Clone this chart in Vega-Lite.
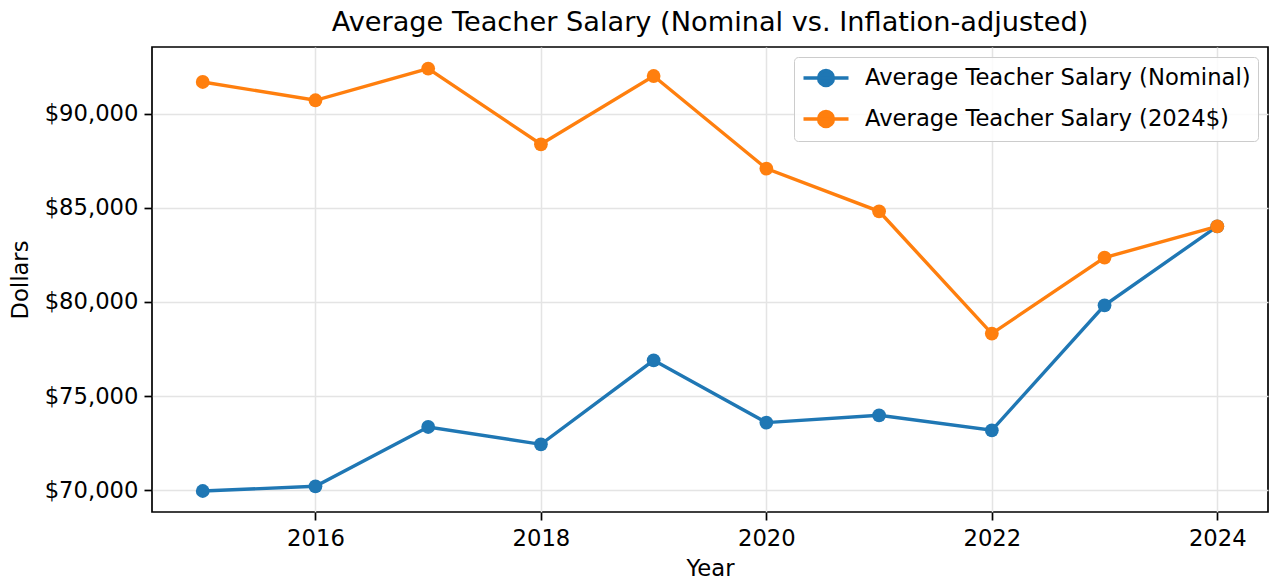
{
  "$schema": "https://vega.github.io/schema/vega-lite/v6.json",
  "autosize": "none",
  "width": 1116,
  "height": 465,
  "padding": {"left": 152, "top": 47, "right": 4, "bottom": 71},
  "background": "white",
  "title": {"text": "Average Teacher Salary (Nominal vs. Inflation-adjusted)", "fontSize": 27.2, "fontWeight": "normal", "font": "DejaVu Sans", "color": "black", "offset": 10, "anchor": "middle"},
  "config": {
    "font": "DejaVu Sans",
    "view": {"stroke": "black", "strokeWidth": 1.7},
    "axis": {"labelFontSize": 22.7, "titleFontSize": 22.7, "titleFontWeight": "normal", "labelColor": "black", "titleColor": "black", "tickColor": "black", "tickWidth": 1.7, "domain": false, "gridColor": "#e4e4e4", "gridWidth": 1.5, "tickSize": 8, "labelPadding": 6, "labelFont": "DejaVu Sans", "titleFont": "DejaVu Sans"}
  },
  "data": {"values": [
    {"year": 2015, "series": "Average Teacher Salary (Nominal)", "value": 69963},
    {"year": 2016, "series": "Average Teacher Salary (Nominal)", "value": 70212},
    {"year": 2017, "series": "Average Teacher Salary (Nominal)", "value": 73361},
    {"year": 2018, "series": "Average Teacher Salary (Nominal)", "value": 72442},
    {"year": 2019, "series": "Average Teacher Salary (Nominal)", "value": 76902},
    {"year": 2020, "series": "Average Teacher Salary (Nominal)", "value": 73594},
    {"year": 2021, "series": "Average Teacher Salary (Nominal)", "value": 73982},
    {"year": 2022, "series": "Average Teacher Salary (Nominal)", "value": 73186},
    {"year": 2023, "series": "Average Teacher Salary (Nominal)", "value": 79822},
    {"year": 2024, "series": "Average Teacher Salary (Nominal)", "value": 84016},
    {"year": 2015, "series": "Average Teacher Salary (2024$)", "value": 91678},
    {"year": 2016, "series": "Average Teacher Salary (2024$)", "value": 90708},
    {"year": 2017, "series": "Average Teacher Salary (2024$)", "value": 92389},
    {"year": 2018, "series": "Average Teacher Salary (2024$)", "value": 88371},
    {"year": 2019, "series": "Average Teacher Salary (2024$)", "value": 91996},
    {"year": 2020, "series": "Average Teacher Salary (2024$)", "value": 87080},
    {"year": 2021, "series": "Average Teacher Salary (2024$)", "value": 84813},
    {"year": 2022, "series": "Average Teacher Salary (2024$)", "value": 78320},
    {"year": 2023, "series": "Average Teacher Salary (2024$)", "value": 82355},
    {"year": 2024, "series": "Average Teacher Salary (2024$)", "value": 84016}
  ]},
  "encoding": {
    "x": {"field": "year", "type": "quantitative", "scale": {"domain": [2014.55, 2024.45], "nice": false, "zero": false},
          "axis": {"values": [2016, 2018, 2020, 2022, 2024], "format": "d", "title": "Year", "titlePadding": 8, "labelPadding": 7}},
    "y": {"field": "value", "type": "quantitative", "scale": {"domain": [68848, 93536], "nice": false, "zero": false},
          "axis": {"values": [70000, 75000, 80000, 85000, 90000], "format": "$,.0f", "title": "Dollars", "titlePadding": 12}},
    "color": {"field": "series", "type": "nominal",
              "scale": {"domain": ["Average Teacher Salary (Nominal)", "Average Teacher Salary (2024$)"], "range": ["#1f77b4", "#ff7f0e"]},
              "legend": {"title": null, "orient": "top-right", "offset": 10, "labelFontSize": 22.7, "labelFont": "DejaVu Sans", "labelColor": "black", "labelLimit": 0, "fillColor": "rgba(255,255,255,0.85)", "strokeColor": "#cccccc", "padding": 7, "cornerRadius": 4, "rowPadding": 11, "symbolOffset": 11, "labelOffset": 25, "symbolType": "M -1.875 0 L 1.875 0 M -0.62 0 A 0.62 0.62 0 1 0 0.62 0 A 0.62 0.62 0 1 0 -0.62 0", "symbolSize": 576, "symbolStrokeWidth": 3.4}}
  },
  "layer": [
    {"mark": {"type": "line", "strokeWidth": 3.4}},
    {"mark": {"type": "point", "filled": true, "size": 190, "opacity": 1}}
  ]
}
